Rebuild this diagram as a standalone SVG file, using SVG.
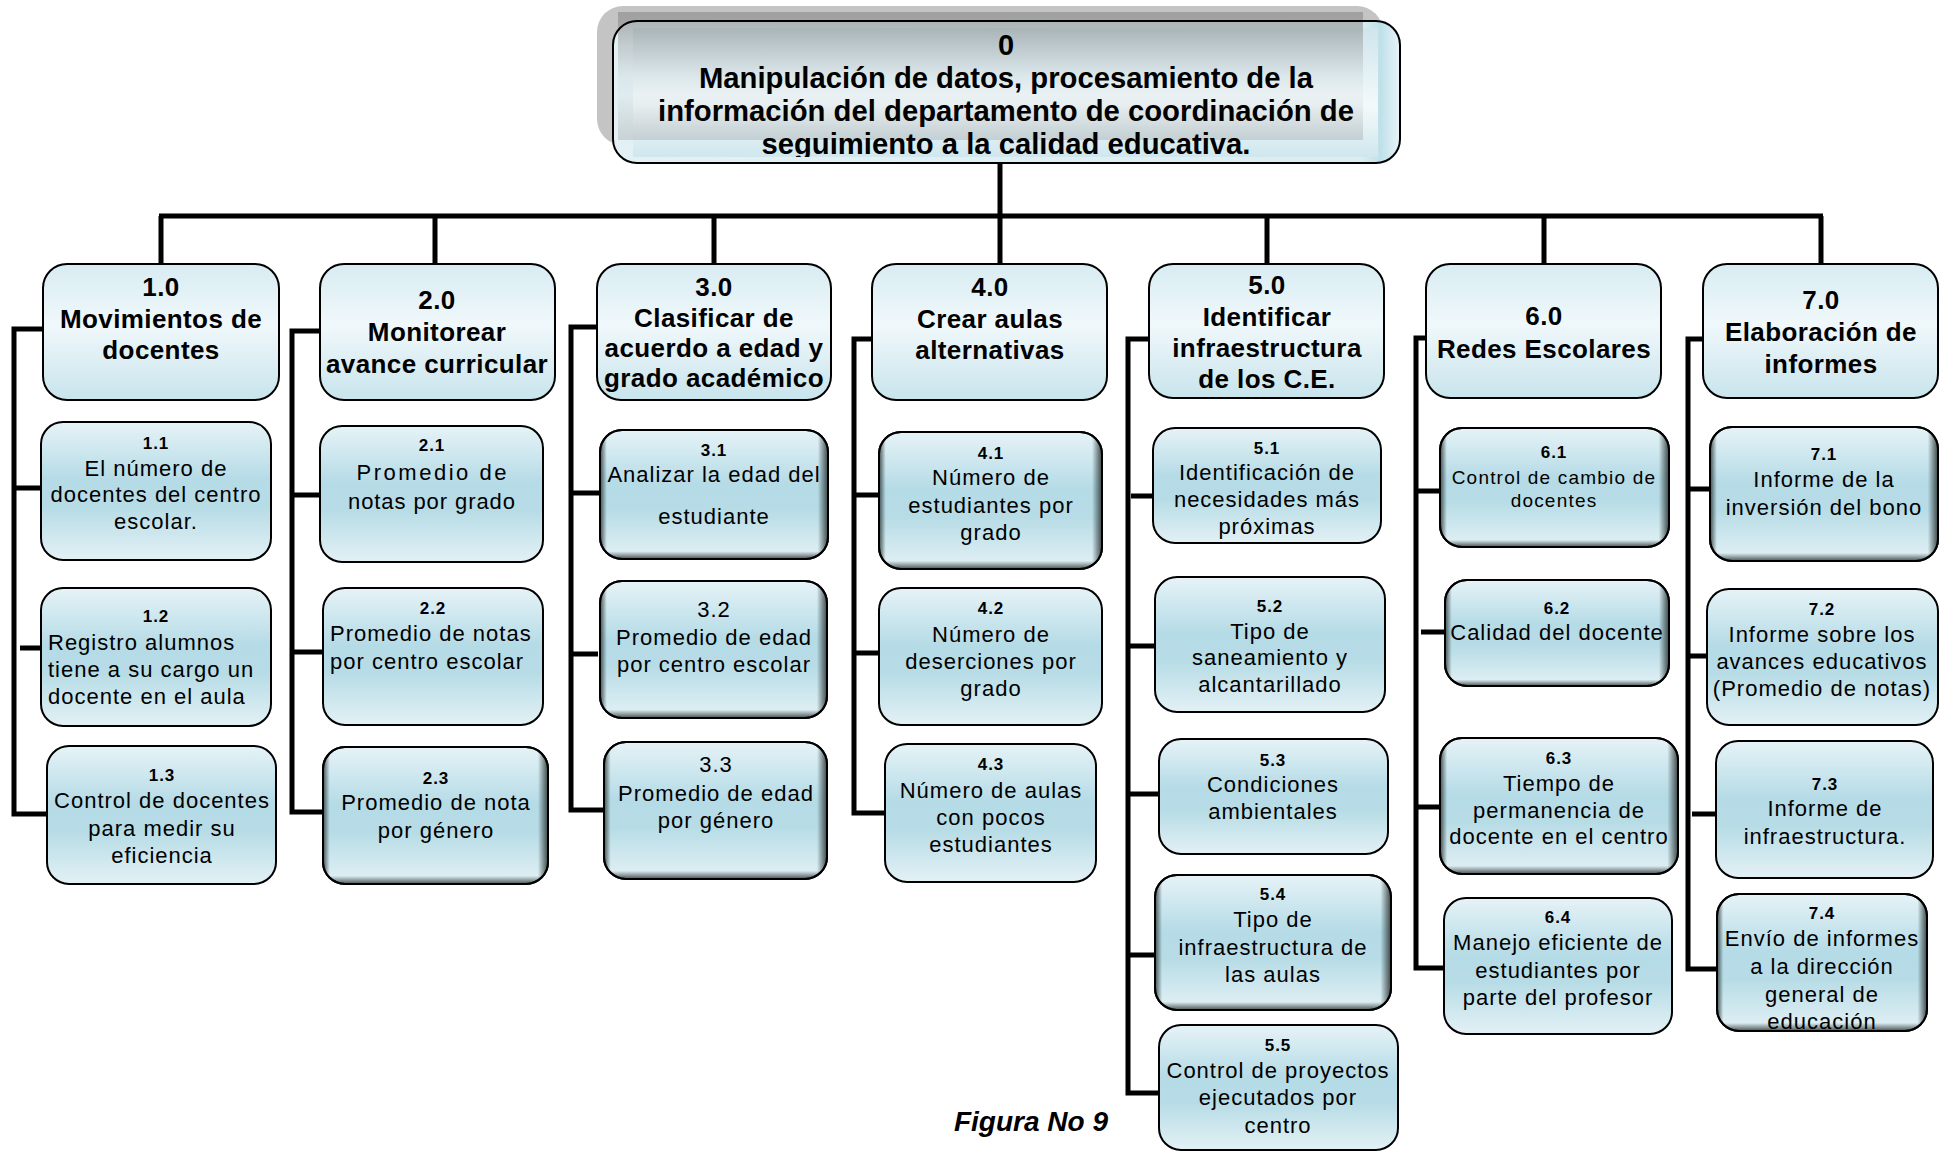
<svg xmlns="http://www.w3.org/2000/svg" width="1946" height="1152" viewBox="0 0 1946 1152">
  <defs>
    <linearGradient id="gTop" x1="0" y1="0" x2="0" y2="1">
      <stop offset="0" stop-color="#d8ecf2"/>
      <stop offset="0.45" stop-color="#f0f8fb"/>
      <stop offset="1" stop-color="#c8e4ec"/>
    </linearGradient>
    <linearGradient id="gSub" x1="0" y1="0" x2="0" y2="1">
      <stop offset="0" stop-color="#e6f3f7"/>
      <stop offset="0.42" stop-color="#b5dbe6"/>
      <stop offset="0.62" stop-color="#b7dce6"/>
      <stop offset="1" stop-color="#e3f1f5"/>
    </linearGradient>
    <linearGradient id="gBevH" x1="0" y1="0" x2="1" y2="0">
      <stop offset="0" stop-color="#34403f" stop-opacity="0.9"/>
      <stop offset="0.03" stop-color="#34403f" stop-opacity="0"/>
      <stop offset="0.955" stop-color="#34403f" stop-opacity="0"/>
      <stop offset="1" stop-color="#34403f" stop-opacity="0.95"/>
    </linearGradient>
    <linearGradient id="gBevV" x1="0" y1="0" x2="0" y2="1">
      <stop offset="0" stop-color="#34403f" stop-opacity="0"/>
      <stop offset="0.94" stop-color="#34403f" stop-opacity="0"/>
      <stop offset="1" stop-color="#34403f" stop-opacity="0.9"/>
    </linearGradient>
    <linearGradient id="gRootBox" x1="0" y1="0" x2="1" y2="0">
      <stop offset="0" stop-color="#e3f1f5"/>
      <stop offset="0.95" stop-color="#dcedf2"/>
      <stop offset="0.975" stop-color="#bfe0e9"/>
      <stop offset="1" stop-color="#e8f4f7"/>
    </linearGradient>
    <linearGradient id="gRootIn" x1="0" y1="0" x2="0" y2="1">
      <stop offset="0" stop-color="#cfe5ec"/>
      <stop offset="0.6" stop-color="#f3f9fb"/>
      <stop offset="1" stop-color="#d0e7ee"/>
    </linearGradient>
    <linearGradient id="gRootVeil" x1="0" y1="0" x2="0" y2="1">
      <stop offset="0" stop-color="#8c8c8c" stop-opacity="0.65"/>
      <stop offset="0.12" stop-color="#8c8c8c" stop-opacity="0.55"/>
      <stop offset="0.25" stop-color="#8c8c8c" stop-opacity="0.38"/>
      <stop offset="0.5" stop-color="#8c8c8c" stop-opacity="0.1"/>
      <stop offset="0.65" stop-color="#8c8c8c" stop-opacity="0.05"/>
      <stop offset="0.88" stop-color="#8c8c8c" stop-opacity="0.22"/>
      <stop offset="1" stop-color="#8c8c8c" stop-opacity="0.3"/>
    </linearGradient>
    <clipPath id="clipRoot"><rect x="613" y="21" width="787" height="136"/></clipPath>
    <clipPath id="clip74"><rect x="1717" y="894" width="210" height="135"/></clipPath>
  </defs>
  <style>
    .l1 { fill: url(#gTop); stroke: #000; stroke-width: 2; }
    .l2 { fill: url(#gSub); stroke: #000; stroke-width: 2; }
    .bh { fill: url(#gBevH); }
    .bv { fill: url(#gBevV); }
    .ol { fill: none; stroke: #000; stroke-width: 2; }
    text { font-family: "Liberation Sans", Arial, sans-serif; fill: #000; }
    .root { font-weight: bold; font-size: 29px; text-anchor: middle; }
    .h { font-weight: bold; font-size: 26px; letter-spacing: 0.4px; text-anchor: middle; }
    .n { font-weight: bold; font-size: 17px; letter-spacing: 1px; text-anchor: middle; }
    .b { font-size: 22px; letter-spacing: 1px; text-anchor: middle; }
    .st { text-anchor: start; }
    .s { font-size: 19px; letter-spacing: 1.2px; }
    .cap { font-weight: bold; font-style: italic; font-size: 28px; text-anchor: middle; }
    .wire { fill: none; stroke: #000; stroke-width: 5; stroke-linejoin: miter; }
  </style>

  <!-- connectors -->
  <g id="connectors">
    <path class="wire" d="M1000,163 V264"/>
    <path class="wire" d="M159,216 H1823"/>
    <path class="wire" d="M161,216 V264 M435,216 V264 M714,216 V264 M1267,216 V264 M1544,216 V264 M1821,216 V264"/>
    <!-- column 1 -->
    <path class="wire" d="M43,329 H14 V814 H47 M14,488 H41 M20,648 H41"/>
    <!-- column 2 -->
    <path class="wire" d="M320,331 H292 V812 H323 M292,495 H320 M292,652 H323"/>
    <!-- column 3 -->
    <path class="wire" d="M597,327 H571 V810 H604 M571,493 H600 M571,654 H598"/>
    <!-- column 4 -->
    <path class="wire" d="M872,339 H854 V813 H885 M854,495 H879 M854,653 H879"/>
    <!-- column 5 -->
    <path class="wire" d="M1149,339 H1128 V1093 H1159 M1131,496 H1153 M1128,646 H1155 M1128,794 H1159 M1128,955 H1155"/>
    <!-- column 6 -->
    <path class="wire" d="M1426,338 H1416 V968 H1444 M1416,491 H1440 M1421,632 H1445 M1416,807 H1440"/>
    <!-- column 7 -->
    <path class="wire" d="M1703,339 H1688 V969 H1717 M1688,489 H1710 M1688,656 H1707 M1692,814 H1716"/>
  </g>

  <!-- root node -->
  <g id="n0">
    <rect x="597" y="6" width="786" height="139" rx="26" fill="#c4c4c4"/>
    <rect x="613" y="21" width="787" height="142" rx="24" fill="url(#gRootBox)"/>
    <rect x="633" y="28" width="745" height="129" fill="url(#gRootIn)"/>
    <rect x="618" y="12" width="745" height="128" fill="url(#gRootVeil)"/>
    <rect class="ol" x="613" y="21" width="787" height="142" rx="24"/>
    <g clip-path="url(#clipRoot)">
      <text class="root" x="1006" y="55">0</text>
      <text class="root" x="1006" y="88" textLength="614" lengthAdjust="spacingAndGlyphs">Manipulación de datos, procesamiento de la</text>
      <text class="root" x="1006" y="121" textLength="696" lengthAdjust="spacingAndGlyphs">información del departamento de coordinación de</text>
      <text class="root" x="1006" y="154" textLength="489" lengthAdjust="spacingAndGlyphs">seguimiento a la calidad educativa.</text>
    </g>
  </g>

  <!-- first level -->
  <g id="n1-0">
    <rect class="l1" x="43" y="264" width="236" height="136" rx="24"/>
    <text class="h" x="161" y="296">1.0</text>
    <text class="h" x="161" y="328">Movimientos de</text>
    <text class="h" x="161" y="359">docentes</text>
  </g>
  <g id="n2-0">
    <rect class="l1" x="320" y="264" width="235" height="136" rx="24"/>
    <text class="h" x="437" y="309">2.0</text>
    <text class="h" x="437" y="341">Monitorear</text>
    <text class="h" x="437" y="373">avance curricular</text>
  </g>
  <g id="n3-0">
    <rect class="l1" x="597" y="264" width="234" height="136" rx="24"/>
    <text class="h" x="714" y="296">3.0</text>
    <text class="h" x="714" y="327">Clasificar de</text>
    <text class="h" x="714" y="357">acuerdo a edad y</text>
    <text class="h" x="714" y="387">grado académico</text>
  </g>
  <g id="n4-0">
    <rect class="l1" x="872" y="264" width="235" height="136" rx="24"/>
    <text class="h" x="990" y="296">4.0</text>
    <text class="h" x="990" y="328">Crear aulas</text>
    <text class="h" x="990" y="359">alternativas</text>
  </g>
  <g id="n5-0">
    <rect class="l1" x="1149" y="264" width="235" height="134" rx="24"/>
    <text class="h" x="1267" y="294">5.0</text>
    <text class="h" x="1267" y="326">Identificar</text>
    <text class="h" x="1267" y="357">infraestructura</text>
    <text class="h" x="1267" y="388">de los C.E.</text>
  </g>
  <g id="n6-0">
    <rect class="l1" x="1426" y="264" width="235" height="134" rx="24"/>
    <text class="h" x="1544" y="325">6.0</text>
    <text class="h" x="1544" y="358">Redes Escolares</text>
  </g>
  <g id="n7-0">
    <rect class="l1" x="1703" y="264" width="235" height="134" rx="24"/>
    <text class="h" x="1821" y="309">7.0</text>
    <text class="h" x="1821" y="341">Elaboración de</text>
    <text class="h" x="1821" y="373">informes</text>
  </g>

  <!-- column 1 -->
  <g id="n1-1">
    <rect class="l2" x="41" y="422" width="230" height="138" rx="22"/>
    <text class="n" x="156" y="449">1.1</text>
    <text class="b" x="156" y="476">El número de</text>
    <text class="b" x="156" y="502">docentes del centro</text>
    <text class="b" x="156" y="529">escolar.</text>
  </g>
  <g id="n1-2">
    <rect class="l2" x="41" y="588" width="230" height="138" rx="22"/>
    <text class="n" x="156" y="622">1.2</text>
    <text class="b st" x="48" y="650">Registro alumnos</text>
    <text class="b st" x="48" y="677">tiene a su cargo un</text>
    <text class="b st" x="48" y="704">docente en el aula</text>
  </g>
  <g id="n1-3">
    <rect class="l2" x="47" y="746" width="229" height="138" rx="22"/>
    <text class="n" x="162" y="781">1.3</text>
    <text class="b" x="162" y="808">Control de docentes</text>
    <text class="b" x="162" y="836">para medir su</text>
    <text class="b" x="162" y="863">eficiencia</text>
  </g>

  <!-- column 2 -->
  <g id="n2-1">
    <rect class="l2" x="320" y="426" width="223" height="136" rx="22"/>
    <text class="n" x="432" y="451">2.1</text>
    <text class="b" x="432" y="480" textLength="151">Promedio de</text>
    <text class="b" x="432" y="509" textLength="168">notas por grado</text>
  </g>
  <g id="n2-2">
    <rect class="l2" x="323" y="588" width="220" height="137" rx="22"/>
    <text class="n" x="433" y="614">2.2</text>
    <text class="b st" x="330" y="641">Promedio de notas</text>
    <text class="b st" x="330" y="669">por centro escolar</text>
  </g>
  <g id="n2-3">
    <rect class="l2" x="323" y="747" width="225" height="137" rx="22"/>
    <rect class="bh" x="323" y="747" width="225" height="137" rx="22"/>
    <rect class="bv" x="323" y="747" width="225" height="137" rx="22"/>
    <rect class="ol" x="323" y="747" width="225" height="137" rx="22"/>
    <text class="n" x="436" y="784">2.3</text>
    <text class="b" x="436" y="810">Promedio de nota</text>
    <text class="b" x="436" y="838">por género</text>
  </g>

  <!-- column 3 -->
  <g id="n3-1">
    <rect class="l2" x="600" y="430" width="228" height="129" rx="22"/>
    <rect class="bh" x="600" y="430" width="228" height="129" rx="22"/>
    <rect class="bv" x="600" y="430" width="228" height="129" rx="22"/>
    <rect class="ol" x="600" y="430" width="228" height="129" rx="22"/>
    <text class="n" x="714" y="456">3.1</text>
    <text class="b" x="714" y="482">Analizar la edad del</text>
    <text class="b" x="714" y="524">estudiante</text>
  </g>
  <g id="n3-2">
    <rect class="l2" x="600" y="581" width="227" height="137" rx="22"/>
    <rect class="bh" x="600" y="581" width="227" height="137" rx="22"/>
    <rect class="bv" x="600" y="581" width="227" height="137" rx="22"/>
    <rect class="ol" x="600" y="581" width="227" height="137" rx="22"/>
    <text class="b" x="714" y="617">3.2</text>
    <text class="b" x="714" y="645">Promedio de edad</text>
    <text class="b" x="714" y="672">por centro escolar</text>
  </g>
  <g id="n3-3">
    <rect class="l2" x="604" y="742" width="223" height="137" rx="22"/>
    <rect class="bh" x="604" y="742" width="223" height="137" rx="22"/>
    <rect class="bv" x="604" y="742" width="223" height="137" rx="22"/>
    <rect class="ol" x="604" y="742" width="223" height="137" rx="22"/>
    <text class="b" x="716" y="772">3.3</text>
    <text class="b" x="716" y="801">Promedio de edad</text>
    <text class="b" x="716" y="828">por género</text>
  </g>

  <!-- column 4 -->
  <g id="n4-1">
    <rect class="l2" x="879" y="432" width="223" height="137" rx="22"/>
    <rect class="bh" x="879" y="432" width="223" height="137" rx="22"/>
    <rect class="bv" x="879" y="432" width="223" height="137" rx="22"/>
    <rect class="ol" x="879" y="432" width="223" height="137" rx="22"/>
    <text class="n" x="991" y="459">4.1</text>
    <text class="b" x="991" y="485">Número de</text>
    <text class="b" x="991" y="513">estudiantes por</text>
    <text class="b" x="991" y="540">grado</text>
  </g>
  <g id="n4-2">
    <rect class="l2" x="879" y="588" width="223" height="137" rx="22"/>
    <text class="n" x="991" y="614">4.2</text>
    <text class="b" x="991" y="642">Número de</text>
    <text class="b" x="991" y="669">deserciones por</text>
    <text class="b" x="991" y="696">grado</text>
  </g>
  <g id="n4-3">
    <rect class="l2" x="885" y="744" width="211" height="138" rx="22"/>
    <text class="n" x="991" y="770">4.3</text>
    <text class="b" x="991" y="798">Número de aulas</text>
    <text class="b" x="991" y="825">con pocos</text>
    <text class="b" x="991" y="852">estudiantes</text>
  </g>

  <!-- column 5 -->
  <g id="n5-1">
    <rect class="l2" x="1153" y="428" width="228" height="115" rx="22"/>
    <text class="n" x="1267" y="454">5.1</text>
    <text class="b" x="1267" y="480">Identificación de</text>
    <text class="b" x="1267" y="507">necesidades más</text>
    <text class="b" x="1267" y="534">próximas</text>
  </g>
  <g id="n5-2">
    <rect class="l2" x="1155" y="577" width="230" height="135" rx="22"/>
    <text class="n" x="1270" y="612">5.2</text>
    <text class="b" x="1270" y="639">Tipo de</text>
    <text class="b" x="1270" y="665">saneamiento y</text>
    <text class="b" x="1270" y="692">alcantarillado</text>
  </g>
  <g id="n5-3">
    <rect class="l2" x="1159" y="739" width="229" height="115" rx="22"/>
    <text class="n" x="1273" y="766">5.3</text>
    <text class="b" x="1273" y="792">Condiciones</text>
    <text class="b" x="1273" y="819">ambientales</text>
  </g>
  <g id="n5-4">
    <rect class="l2" x="1155" y="875" width="236" height="135" rx="22"/>
    <rect class="bh" x="1155" y="875" width="236" height="135" rx="22"/>
    <rect class="bv" x="1155" y="875" width="236" height="135" rx="22"/>
    <rect class="ol" x="1155" y="875" width="236" height="135" rx="22"/>
    <text class="n" x="1273" y="900">5.4</text>
    <text class="b" x="1273" y="927">Tipo de</text>
    <text class="b" x="1273" y="955">infraestructura de</text>
    <text class="b" x="1273" y="982">las aulas</text>
  </g>
  <g id="n5-5">
    <rect class="l2" x="1159" y="1025" width="239" height="125" rx="22"/>
    <text class="n" x="1278" y="1051">5.5</text>
    <text class="b" x="1278" y="1078">Control de proyectos</text>
    <text class="b" x="1278" y="1105">ejecutados por</text>
    <text class="b" x="1278" y="1133">centro</text>
  </g>

  <!-- column 6 -->
  <g id="n6-1">
    <rect class="l2" x="1440" y="428" width="229" height="119" rx="22"/>
    <rect class="bh" x="1440" y="428" width="229" height="119" rx="22"/>
    <rect class="bv" x="1440" y="428" width="229" height="119" rx="22"/>
    <rect class="ol" x="1440" y="428" width="229" height="119" rx="22"/>
    <text class="n" x="1554" y="458">6.1</text>
    <text class="b s" x="1554" y="484">Control de cambio de</text>
    <text class="b s" x="1554" y="507">docentes</text>
  </g>
  <g id="n6-2">
    <rect class="l2" x="1445" y="580" width="224" height="106" rx="22"/>
    <rect class="bh" x="1445" y="580" width="224" height="106" rx="22"/>
    <rect class="bv" x="1445" y="580" width="224" height="106" rx="22"/>
    <rect class="ol" x="1445" y="580" width="224" height="106" rx="22"/>
    <text class="n" x="1557" y="614">6.2</text>
    <text class="b" x="1557" y="640">Calidad del docente</text>
  </g>
  <g id="n6-3">
    <rect class="l2" x="1440" y="738" width="238" height="136" rx="22"/>
    <rect class="bh" x="1440" y="738" width="238" height="136" rx="22"/>
    <rect class="bv" x="1440" y="738" width="238" height="136" rx="22"/>
    <rect class="ol" x="1440" y="738" width="238" height="136" rx="22"/>
    <text class="n" x="1559" y="764">6.3</text>
    <text class="b" x="1559" y="791">Tiempo de</text>
    <text class="b" x="1559" y="818">permanencia de</text>
    <text class="b" x="1559" y="844">docente en el centro</text>
  </g>
  <g id="n6-4">
    <rect class="l2" x="1444" y="898" width="228" height="136" rx="22"/>
    <text class="n" x="1558" y="923">6.4</text>
    <text class="b" x="1558" y="950">Manejo eficiente de</text>
    <text class="b" x="1558" y="978">estudiantes por</text>
    <text class="b" x="1558" y="1005">parte del profesor</text>
  </g>

  <!-- column 7 -->
  <g id="n7-1">
    <rect class="l2" x="1710" y="427" width="228" height="134" rx="22"/>
    <rect class="bh" x="1710" y="427" width="228" height="134" rx="22"/>
    <rect class="bv" x="1710" y="427" width="228" height="134" rx="22"/>
    <rect class="ol" x="1710" y="427" width="228" height="134" rx="22"/>
    <text class="n" x="1824" y="460">7.1</text>
    <text class="b" x="1824" y="487">Informe de la</text>
    <text class="b" x="1824" y="515">inversión del bono</text>
  </g>
  <g id="n7-2">
    <rect class="l2" x="1707" y="589" width="231" height="136" rx="22"/>
    <text class="n" x="1822" y="615">7.2</text>
    <text class="b" x="1822" y="642">Informe sobre los</text>
    <text class="b" x="1822" y="669">avances educativos</text>
    <text class="b" x="1822" y="696">(Promedio de notas)</text>
  </g>
  <g id="n7-3">
    <rect class="l2" x="1716" y="741" width="217" height="137" rx="22"/>
    <text class="n" x="1825" y="790">7.3</text>
    <text class="b" x="1825" y="816">Informe de</text>
    <text class="b" x="1825" y="844">infraestructura.</text>
  </g>
  <g id="n7-4">
    <rect class="l2" x="1717" y="894" width="210" height="137" rx="22"/>
    <rect class="bh" x="1717" y="894" width="210" height="137" rx="22"/>
    <rect class="bv" x="1717" y="894" width="210" height="137" rx="22"/>
    <rect class="ol" x="1717" y="894" width="210" height="137" rx="22"/>
    <g clip-path="url(#clip74)">
      <text class="n" x="1822" y="919">7.4</text>
      <text class="b" x="1822" y="946">Envío de informes</text>
      <text class="b" x="1822" y="974">a la dirección</text>
      <text class="b" x="1822" y="1002">general de</text>
      <text class="b" x="1822" y="1029">educación</text>
    </g>
  </g>

  <!-- caption -->
  <text class="cap" x="1031" y="1131">Figura No 9</text>
</svg>
